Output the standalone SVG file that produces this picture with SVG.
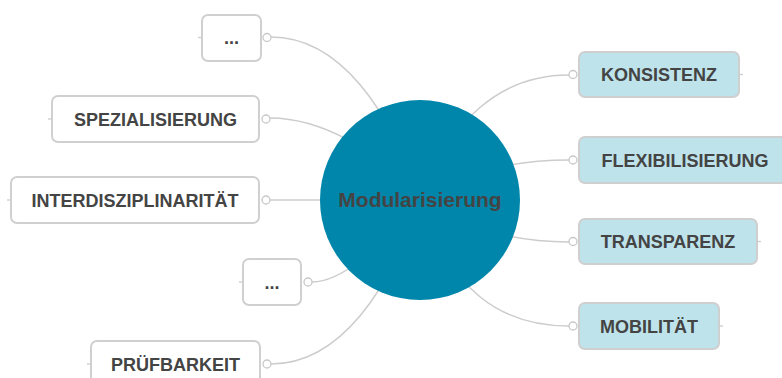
<svg xmlns="http://www.w3.org/2000/svg" width="782" height="378" viewBox="0 0 782 378">
<style>
.c{fill:none;stroke:#cccccc;stroke-width:1.5}
.p{fill:#fff;stroke:#c8c8c8;stroke-width:1.3}
.t{stroke:#cccccc;stroke-width:1.3}
.bw{fill:#fff;stroke:#d0d0d0;stroke-width:2}
.bb{fill:#bfe3eb;stroke:#cfcfcf;stroke-width:2}
.lbl{font-family:"Liberation Sans",Arial,sans-serif;font-weight:bold;font-size:18px;fill:#444;text-anchor:middle}
</style>
<rect width="782" height="378" fill="#fff"/>
<g id="connectors">
<path class="c" d="M271,37 C340,37 390,110 420,200"/>
<path class="c" d="M270,118 C320,118 380,150 420,200"/>
<path class="c" d="M270,200 L420,200"/>
<path class="c" d="M312,282 C340,282 380,250 420,200"/>
<path class="c" d="M271,364 C340,364 390,290 420,200"/>
<path class="c" d="M569,75 C500,75 450,120 420,200"/>
<path class="c" d="M569,160 C520,160 460,170 420,200"/>
<path class="c" d="M569,242 C520,242 460,230 420,200"/>
<path class="c" d="M569,326 C500,326 450,290 420,200"/>
</g>
<g id="center">
<circle cx="420" cy="200" r="100" fill="#0086ab"/>
<text class="lbl" x="420" y="207" style="font-size:21px">Modularisierung</text>
</g>
<g id="n-dots-top">
<line class="t" x1="198" y1="37.5" x2="202" y2="37.5"/>
<rect class="bw" x="202" y="15" width="59" height="46" rx="6"/>
<circle class="p" cx="267" cy="37.5" r="4"/>
<text class="lbl" x="231.5" y="44">...</text>
</g>
<g id="n-spezialisierung">
<line class="t" x1="48" y1="119" x2="52" y2="119"/>
<rect class="bw" x="52" y="96" width="207" height="46" rx="6"/>
<circle class="p" cx="266" cy="119" r="4"/>
<text class="lbl" x="155.5" y="125.5">SPEZIALISIERUNG</text>
</g>
<g id="n-interdisziplinaritaet">
<line class="t" x1="7" y1="200" x2="11" y2="200"/>
<rect class="bw" x="11" y="177" width="248" height="46" rx="6"/>
<circle class="p" cx="266" cy="200" r="4"/>
<text class="lbl" x="135" y="206.5">INTERDISZIPLINARITÄT</text>
</g>
<g id="n-dots-bottom">
<line class="t" x1="239" y1="282" x2="243" y2="282"/>
<rect class="bw" x="243" y="259" width="58" height="46" rx="6"/>
<circle class="p" cx="308" cy="282" r="4"/>
<text class="lbl" x="272" y="288.5">...</text>
</g>
<g id="n-pruefbarkeit">
<line class="t" x1="87" y1="364" x2="91" y2="364"/>
<rect class="bw" x="91" y="341" width="169" height="46" rx="6"/>
<circle class="p" cx="267" cy="364" r="4"/>
<text class="lbl" x="175.5" y="370.5">PRÜFBARKEIT</text>
</g>
<g id="n-konsistenz">
<rect class="bb" x="579" y="52" width="160" height="45" rx="6"/>
<line class="t" x1="739" y1="74.5" x2="743" y2="74.5"/>
<circle class="p" cx="573" cy="74.5" r="4"/>
<text class="lbl" x="659" y="81">KONSISTENZ</text>
</g>
<g id="n-flexibilisierung">
<rect class="bb" x="579" y="137" width="212" height="46" rx="6"/>
<circle class="p" cx="573" cy="160" r="4"/>
<text class="lbl" x="685" y="166.5">FLEXIBILISIERUNG</text>
</g>
<g id="n-transparenz">
<rect class="bb" x="579" y="219" width="178" height="45" rx="6"/>
<line class="t" x1="757" y1="241.5" x2="761" y2="241.5"/>
<circle class="p" cx="573" cy="241.5" r="4"/>
<text class="lbl" x="668" y="248">TRANSPARENZ</text>
</g>
<g id="n-mobilitaet">
<rect class="bb" x="579" y="303" width="140" height="46" rx="6"/>
<line class="t" x1="719" y1="326" x2="723" y2="326"/>
<circle class="p" cx="573" cy="326" r="4"/>
<text class="lbl" x="649" y="332.5">MOBILITÄT</text>
</g>
</svg>
